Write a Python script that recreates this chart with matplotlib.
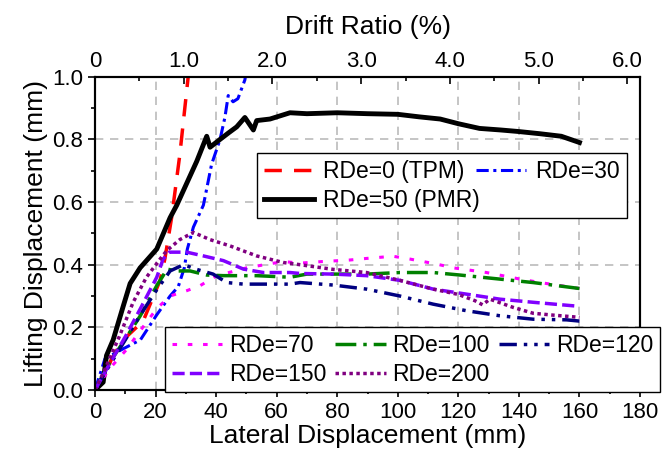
import matplotlib.pyplot as plt
from matplotlib.ticker import MultipleLocator

plt.rcParams['font.family'] = ['Liberation Sans', 'DejaVu Sans']

# Data (lateral displacement in mm, lifting displacement in mm)
x_tpm = [0, 3, 5.5, 9.3, 15.9, 21.5, 23.1, 25.3, 28, 31]
y_tpm = [0, 0.04, 0.1, 0.16, 0.22, 0.35, 0.42, 0.55, 0.75, 1.02]

x_30 = [0, 3.3, 9, 15, 20.4, 24.8, 27.5, 29.5, 30.5, 32.5, 35.8, 38.5, 41.3, 42.9, 44, 45.6, 47.2, 49.5, 50]
y_30 = [0, 0.1, 0.13, 0.16, 0.24, 0.30, 0.33, 0.39, 0.45, 0.52, 0.59, 0.72, 0.80, 0.87, 0.94, 0.92, 0.93, 0.99, 1.02]

x_pmr = [0, 2.7, 3.8, 6, 9.4, 11.6, 14.9, 20.4, 24.8, 27, 30.3, 33.6, 36.9, 38, 41.3, 44, 46.8, 49.5,
         52.3, 53.4, 57.8, 61.1, 64.4, 70, 80, 90, 100, 107, 114, 120, 127, 134, 140, 147, 154, 160]
y_pmr = [0, 0.025, 0.11, 0.16, 0.27, 0.34, 0.39, 0.45, 0.55, 0.59, 0.66, 0.73, 0.81, 0.775, 0.80, 0.82, 0.84, 0.87,
         0.83, 0.86, 0.865, 0.875, 0.885, 0.882, 0.885, 0.882, 0.88, 0.872, 0.865, 0.85, 0.835, 0.83, 0.825, 0.818, 0.81, 0.79]

x_70 = [0, 5, 10.5, 15, 20.4, 24.8, 30.3, 34.7, 40.2, 44.6, 50.1, 56, 62.2, 67.7, 75, 84.2, 89.7, 98.4, 104,
        112.8, 118.3, 129.3, 140.4, 147, 160]
y_70 = [0, 0.07, 0.13, 0.19, 0.26, 0.30, 0.317, 0.333, 0.365, 0.376, 0.39, 0.40, 0.41, 0.405, 0.41, 0.415, 0.42,
        0.427, 0.418, 0.402, 0.39, 0.375, 0.354, 0.343, 0.324]

x_100 = [0, 1.6, 5, 10.5, 14.9, 20.4, 22.5, 23.7, 27, 31.4, 36.9, 42.4, 53.4, 64.4, 70, 80, 89.7, 100.7,
         111.7, 120.5, 133.7, 144.7, 160]
y_100 = [0, 0.03, 0.09, 0.17, 0.236, 0.333, 0.365, 0.386, 0.38, 0.38, 0.367, 0.365, 0.365, 0.36, 0.37, 0.37,
         0.37, 0.375, 0.375, 0.367, 0.354, 0.343, 0.324]

x_120 = [0, 3, 10, 15, 20.4, 24.8, 29.2, 33.6, 39, 43.5, 49, 56, 64.4, 67.7, 78.7, 89.7, 100.7, 111.7,
         122.7, 133.7, 144.7, 155.7, 160]
y_120 = [0, 0.05, 0.16, 0.24, 0.32, 0.38, 0.40, 0.385, 0.37, 0.343, 0.338, 0.338, 0.338, 0.343, 0.335, 0.322,
         0.30, 0.274, 0.253, 0.237, 0.226, 0.224, 0.22]

x_150 = [0, 4, 10, 15, 20.4, 22.5, 24.5, 30.3, 35.8, 42.4, 49, 55.6, 64.4, 67.7, 78.7, 89.7, 100.7, 111.7,
         122.7, 133.7, 144.7, 160]
y_150 = [0, 0.07, 0.17, 0.26, 0.36, 0.418, 0.44, 0.44, 0.428, 0.413, 0.386, 0.375, 0.375, 0.372, 0.37, 0.365,
         0.35, 0.322, 0.306, 0.29, 0.28, 0.267]

x_200 = [0, 3, 8, 12.6, 17, 21.5, 23.7, 28, 32.5, 38, 44.6, 53.4, 62.2, 67.7, 78.7, 89.7, 100.7, 111.7,
         120, 125.5, 128, 130.4, 138, 144.7, 151.3, 160]
y_200 = [0, 0.06, 0.17, 0.28, 0.36, 0.418, 0.445, 0.48, 0.503, 0.48, 0.46, 0.428, 0.407, 0.40, 0.385, 0.375,
         0.35, 0.322, 0.305, 0.285, 0.272, 0.29, 0.264, 0.245, 0.239, 0.232]

mm_per_percent = 29.3  # drift ratio conversion for top axis

fig = plt.figure(figsize=(6.62, 4.57), dpi=100)
ax = fig.add_axes([0.1435, 0.1466, 0.8233, 0.6855])

l0, = ax.plot(x_tpm, y_tpm, color='red', lw=2.5, ls=(0, (5, 3.5)), label='RDe=0 (TPM)')
l30, = ax.plot(x_30, y_30, color='blue', lw=2.2, ls=(0, (4, 1.5, 1, 1.5)), label='RDe=30')
l50, = ax.plot(x_pmr, y_pmr, color='black', lw=3.5, label='RDe=50 (PMR)')
l70, = ax.plot(x_70, y_70, color='#FF00FF', lw=2.2, ls=(0, (1.5, 3.5)), label='RDe=70')
l100, = ax.plot(x_100, y_100, color='#008000', lw=2.5, ls=(0, (6, 2, 1, 2)), label='RDe=100')
l120, = ax.plot(x_120, y_120, color='#000080', lw=2.5, ls=(0, (5, 2, 1, 2, 1, 2)), label='RDe=120')
l150, = ax.plot(x_150, y_150, color='#8000FF', lw=2.5, ls=(0, (3.5, 1.5)), label='RDe=150')
l200, = ax.plot(x_200, y_200, color='#800080', lw=2.5, ls=(0, (1, 1)), label='RDe=200')

ax.set_xlim(0, 180)
ax.set_ylim(0, 1.0)
ax.xaxis.set_major_locator(MultipleLocator(20))
ax.xaxis.set_minor_locator(MultipleLocator(10))
ax.yaxis.set_major_locator(MultipleLocator(0.2))
ax.yaxis.set_minor_locator(MultipleLocator(0.1))
ax.yaxis.set_major_formatter(plt.FormatStrFormatter('%.1f'))
ax.tick_params(which='both', direction='out', labelsize=16, width=1.2)
ax.tick_params(which='major', length=5)
ax.tick_params(which='minor', length=3)
ax.grid(True, which='major', color='#BBBBBB', ls=(0, (5, 4)), lw=1.2)
for s in ax.spines.values():
    s.set_linewidth(1.5)

ax.set_xlabel('Lateral Displacement (mm)', fontsize=19, labelpad=1)
ax.set_ylabel('Lifting Displacement (mm)', fontsize=19, labelpad=3)

top = ax.twiny()
top.set_xlim(0, 180 / mm_per_percent)
top.xaxis.set_major_locator(MultipleLocator(1.0))
top.xaxis.set_minor_locator(MultipleLocator(0.5))
top.xaxis.set_major_formatter(plt.FuncFormatter(lambda v, p: '0' if v == 0 else f'{v:.1f}'))
top.tick_params(which='both', direction='in', labelsize=16, width=1.2)
top.tick_params(which='major', length=5)
top.tick_params(which='minor', length=3)
top.set_xlabel('Drift Ratio (%)', fontsize=19, labelpad=12)
for s in top.spines.values():
    s.set_linewidth(1.5)

leg1 = top.legend(handles=[l0, l50, l30], ncol=2, fontsize=16.5, loc='upper left',
                  bbox_to_anchor=(257 / 662, 1 - 153 / 457, 370 / 662, 0), bbox_transform=fig.transFigure,
                  mode='expand', frameon=True, fancybox=False, edgecolor='black', framealpha=1,
                  borderpad=0.3, labelspacing=0.25, handlelength=2.2, handletextpad=0.4, columnspacing=0.5,
                  borderaxespad=0)
leg1.get_frame().set_linewidth(1.0)
top.add_artist(leg1)

leg2 = top.legend(handles=[l70, l150, l100, l200, l120], ncol=3, fontsize=16.5, loc='upper left',
                  bbox_to_anchor=(165 / 662, 1 - 327 / 457, 495 / 662, 0), bbox_transform=fig.transFigure,
                  mode='expand', frameon=True, fancybox=False, edgecolor='black', framealpha=1,
                  borderpad=0.3, labelspacing=0.25, handlelength=2.2, handletextpad=0.3, columnspacing=0.4,
                  borderaxespad=0)
leg2.get_frame().set_linewidth(1.0)

fig.savefig('out.png', dpi=100)
